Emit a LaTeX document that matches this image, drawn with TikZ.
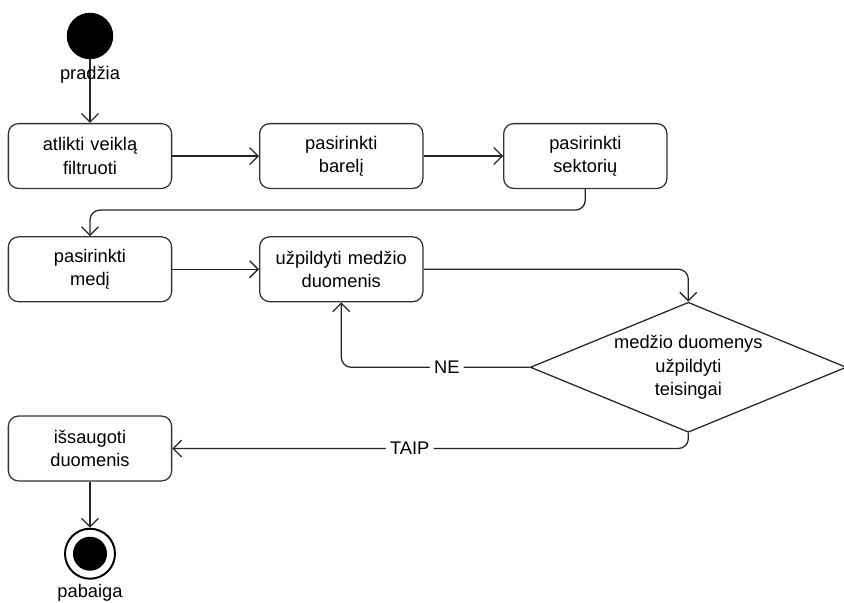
\documentclass[tikz,border=0pt]{standalone}
\usepackage{fontspec}
\setmainfont{Liberation Sans}
\usepackage{tikz}
\usetikzlibrary{shapes.geometric, arrows.meta}

\begin{document}
\begin{tikzpicture}[x=0.025cm, y=-0.025cm, node distance=3cm, every node/.style={font=\fontsize{13}{16.5}\selectfont}]
\tikzstyle{process} = [rectangle, rounded corners=0.25cm, minimum width=4.08cm, minimum height=1.62cm, text width=3.8cm, align=center, draw=black!80, line width=0.9pt]
\tikzstyle{decision} = [diamond, shape aspect=2.4, minimum width=7.9cm, minimum height=3.25cm, inner sep=0pt, align=center, draw=black!85, line width=0.9pt]
\tikzstyle{startdot} = [circle, fill=black, minimum size=1.16cm, inner sep=0pt]
\tikzstyle{enddot} = [circle, draw=black, line width=1.4pt, minimum size=1.25cm, inner sep=0pt]
\tikzstyle{arrow} = [line width=0.9pt, draw=black!85, ->, >={Straight Barb[length=6pt,width=12pt]}, rounded corners=0.25cm]
\tikzstyle{edgetext} = [fill=white, inner sep=3pt]

\useasboundingbox (0,0) rectangle (844,603);

\node (start) [startdot] at (90,36) {};
\node (filtr) [process, below of=start] {atlikti veiklą\\filtruoti};
\node (barel) [process, right of=filtr, node distance=6.28cm] {pasirinkti\\barelį};
\node (sektor) [process, right of=barel, node distance=6.1cm] {pasirinkti\\sektorių};
\node (medis) [process, below of=filtr, node distance=2.83cm] {pasirinkti\\medį};
\node (pildyti) [process, right of=medis, node distance=6.28cm] {užpildyti medžio\\duomenis};
\node (tikrinti) [decision, right of=pildyti, node distance=8.675cm, yshift=-2.45cm] {medžio duomenys\\užpildyti\\teisingai};
\node (saugoti) [process, below of=medis, node distance=4.48cm] {išsaugoti\\duomenis};
\node (end) [enddot, below of=saugoti, node distance=2.63cm] {};
\node (endin) [circle, fill=black, minimum size=0.85cm, inner sep=0pt] at (end) {};

\draw [arrow] (start) -- (filtr);
\node (startlbl) [below of=start, node distance=0.98cm] {pradžia};
\draw [arrow] (filtr) -- (barel);
\draw [arrow] (barel) -- (sektor);
\draw [arrow] (sektor.south) -- ++(0,21) -| (medis.north);
\draw [arrow] (medis) -- (pildyti);
\draw [arrow] (pildyti.east) -| (tikrinti.north);
\draw [arrow] (tikrinti.west) -| node[edgetext, pos=0.22] {NE} (pildyti.south);
\draw [arrow] (tikrinti.south) |- node[edgetext, pos=0.77] {TAIP} (saugoti.east);
\draw [arrow] (saugoti) -- (end);
\node (endlbl) [below of=end, node distance=0.98cm] {pabaiga};
\end{tikzpicture}
\end{document}
